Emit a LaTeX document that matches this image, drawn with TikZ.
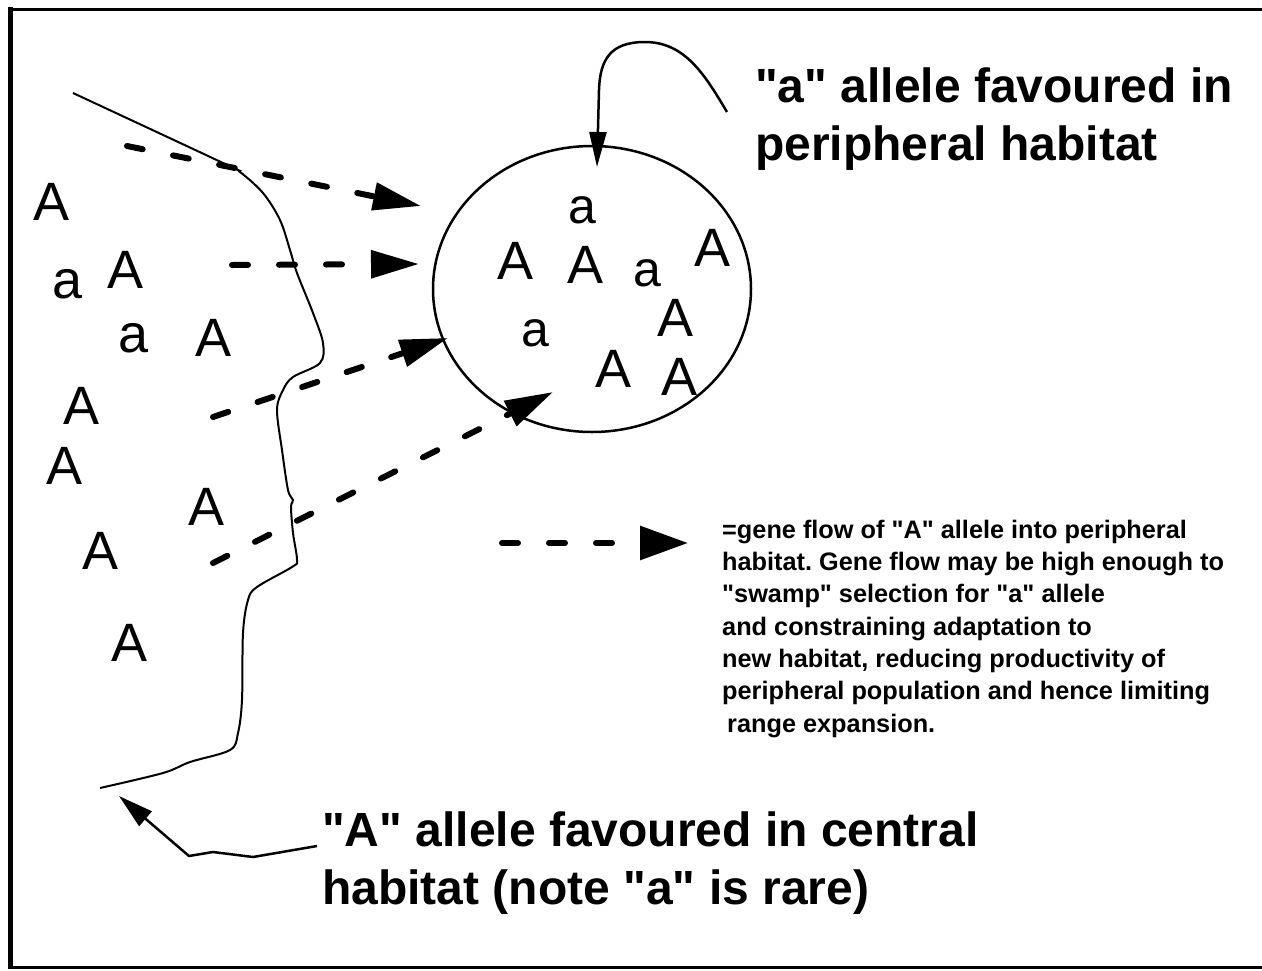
\documentclass[tikz,border=0pt]{standalone}
\usepackage{fontspec}
\setmainfont{Liberation Sans}[Ligatures=TeXOff]
\usetikzlibrary{arrows.meta,shapes.geometric}
\begin{document}
\frenchspacing
\begin{tikzpicture}[x=1pt,y=-1pt,
  letter/.style={inner sep=0pt, font=\fontsize{54}{54}\selectfont},
  smallletter/.style={inner sep=0pt, font=\fontsize{50}{50}\selectfont},
  bigtext/.style={inner sep=0pt, anchor=base west, font=\fontsize{48}{58}\selectfont\bfseries},
  legendtext/.style={inner sep=0pt, anchor=base west, align=left, font=\fontsize{25.3}{32.3}\selectfont\bfseries\frenchspacing},
  flow/.style={line width=6pt, line cap=round, dash pattern=on 16pt off 31pt, -{Triangle[length=48pt,width=27pt]}},
  pointer/.style={line width=2.5pt, line join=round},
]
\useasboundingbox (0,0) rectangle (1262,970);
% frame
\draw[line width=5pt] (10,7) -- (10,969);
\draw[line width=3pt] (8,9) -- (1262,9);
\draw[line width=3pt] (8,967) -- (1262,967);

% boundary between habitats
\draw[line width=2pt] plot[smooth, tension=0.55] coordinates {
 (73,93) (223,163) (240,172) (263,193) (280,220) (290,250) (297,273) (313,313)
 (323,343) (320,363) (293,377) (283,390) (277,410) (282,450) (288,490) (293,500)
 (291,507) (293,533) (297,560) (292,567) (257,587) (248,600) (243,633) (242,700)
 (238,733) (230,750) (190,762) (163,773) (100,788)};

% peripheral population
\node[draw, ellipse, line width=2.5pt, minimum width=318pt, minimum height=286pt, inner sep=0pt] (pop) at (592,289) {};

% central letters
\node[letter] (L1) at (52,202) {A};
\node[letter] (L2) at (68,284) {a};
\node[letter] (L3) at (126,270) {A};
\node[letter] (L4) at (134,338) {a};
\node[letter] (L5) at (214,338) {A};
\node[letter] (L6) at (82,406) {A};
\node[letter] (L7) at (65,466) {A};
\node[letter] (L8) at (207,507) {A};
\node[letter] (L9) at (101,551) {A};
\node[letter] (L10) at (130,643) {A};

% peripheral letters
\node[smallletter] (P1) at (582,210) {a};
\node[letter] (P2) at (516,261) {A};
\node[letter] (P3) at (586,265) {A};
\node[smallletter] (P4) at (647,273) {a};
\node[letter] (P5) at (713,248) {A};
\node[smallletter] (P6) at (535,333) {a};
\node[letter] (P7) at (676,318) {A};
\node[letter] (P8) at (614,369) {A};
\node[letter] (P9) at (680,377) {A};

% gene flow arrows
\coordinate (f1s) at (127,146); \coordinate (f1e) at (421,206);
\coordinate (f2s) at (232,265); \coordinate (f2e) at (419,264);
\coordinate (f3s) at (213,417); \coordinate (f3e) at (448,338);
\coordinate (f4s) at (213,563); \coordinate (f4e) at (553,392);
\draw[flow] (f1s) -- (f1e);
\draw[flow] (f2s) -- (f2e);
\draw[flow] (f3s) -- (f3e);
\draw[flow] (f4s) -- (f4e);

% top label and pointer
\node[bigtext] (top1) at (755,102) {"a" allele favoured in};
\node[bigtext] (top2) at (755,160) {peripheral habitat};
\coordinate (tpS) at (727,112);
\coordinate (tpE) at (597,167);
\draw[pointer, -{Triangle[length=35pt,width=17pt]}] (tpS) .. controls (705,75) and (685,42) .. (645,42)
  .. controls (610,42) and (600,60) .. (599,90) -- (tpE);

% bottom label and pointer
\node[bigtext] (bot1) at (322,846) {"A" allele favoured in central};
\node[bigtext] (bot2) at (322,904) {habitat (note "a" is rare)};
\coordinate (bpS) at (317,846);
\coordinate (bpE) at (119,796);
\draw[pointer, -{Triangle[length=35pt,width=19pt]}] (bpS) -- (253,857) -- (213,852) -- (189,856) -- (bpE);

% legend
\coordinate (legS) at (502,543);
\coordinate (legE) at (688,543);
\draw[flow, -{Triangle[length=48pt,width=33pt]}] (legS) -- (legE);
\node[legendtext] (legtext) at (722,732) {=gene flow of "A" allele into peripheral\\
habitat. Gene flow may be high enough to\\
"swamp" selection for "a" allele\\
and constraining adaptation to\\
new habitat, reducing productivity of\\
peripheral population and hence limiting\\
\hspace*{5pt}range expansion.};
\end{tikzpicture}
\end{document}
